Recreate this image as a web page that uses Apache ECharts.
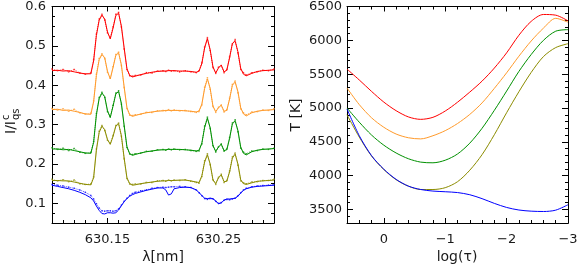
<!DOCTYPE html>
<html>
<head>
<meta charset="utf-8">
<script src="https://cdn.jsdelivr.net/npm/echarts@6/dist/echarts.min.js"></script>
<style>html,body{margin:0;padding:0;background:#fff;}#c{width:581px;height:267px;}</style>
</head>
<body>
<div id="c"></div>
<script>
// ---------- Left panel: wavelength grid (nm) ----------
const lam = [630.100,630.105,630.110,630.115,630.120,630.125,630.130,630.135,
630.1375,630.140,630.1425,630.145,630.1475,630.150,630.1525,630.155,630.1575,630.160,630.1625,630.165,630.1675,630.170,630.1725,630.175,
630.180,630.185,630.190,630.195,630.200,630.2025,630.205,630.2075,630.210,630.215,630.220,630.225,630.230,
630.2325,630.235,630.2375,630.240,630.2425,630.245,630.2475,630.250,630.2525,630.255,630.2575,630.260,630.2625,630.265,630.2675,630.270,630.2725,630.275,
630.280,630.285,630.290,630.295,630.300];

const redFit = [0.437,0.438,0.436,0.437,0.434,0.431,0.429,0.429,
0.462,0.527,0.565,0.578,0.568,0.535,0.518,0.545,0.577,0.583,0.550,0.495,0.442,0.425,0.421,0.423,
0.427,0.430,0.433,0.435,0.436,0.436,0.437,0.437,0.437,0.436,0.436,0.435,0.433,
0.436,0.455,0.495,0.518,0.490,0.447,0.431,0.444,0.451,0.434,0.438,0.470,0.506,0.512,0.485,0.443,0.428,0.424,
0.430,0.435,0.437,0.438,0.439];
const redObs = [0.441,0.437,0.440,0.434,0.440,0.431,0.428,0.431,
0.465,0.530,0.568,0.580,0.566,0.533,0.520,0.548,0.580,0.585,0.548,0.492,0.440,0.424,0.423,0.425,
0.426,0.432,0.431,0.436,0.437,0.435,0.438,0.436,0.437,0.434,0.437,0.434,0.432,
0.437,0.457,0.497,0.521,0.488,0.445,0.430,0.446,0.450,0.432,0.440,0.472,0.505,0.516,0.482,0.440,0.432,0.426,
0.432,0.434,0.438,0.437,0.441];

const orangeFit = [0.338,0.339,0.336,0.337,0.334,0.331,0.327,0.326,
0.358,0.425,0.465,0.478,0.470,0.435,0.416,0.445,0.476,0.482,0.452,0.396,0.343,0.325,0.321,0.323,
0.327,0.330,0.332,0.334,0.335,0.336,0.336,0.336,0.336,0.336,0.335,0.334,0.332,
0.335,0.352,0.392,0.416,0.392,0.347,0.333,0.343,0.349,0.334,0.336,0.365,0.400,0.408,0.384,0.343,0.327,0.322,
0.330,0.334,0.336,0.337,0.338];
const orangeObs = [0.341,0.337,0.340,0.334,0.339,0.330,0.327,0.329,
0.360,0.428,0.468,0.480,0.468,0.433,0.418,0.447,0.478,0.484,0.450,0.394,0.341,0.324,0.323,0.325,
0.326,0.331,0.331,0.335,0.336,0.335,0.338,0.335,0.337,0.335,0.336,0.333,0.331,
0.333,0.350,0.395,0.419,0.390,0.346,0.331,0.344,0.350,0.332,0.338,0.367,0.402,0.411,0.381,0.340,0.330,0.325,
0.332,0.333,0.337,0.336,0.340];

const greenFit = [0.238,0.238,0.236,0.237,0.234,0.231,0.228,0.227,
0.255,0.325,0.366,0.380,0.371,0.335,0.318,0.347,0.378,0.384,0.354,0.298,0.244,0.226,0.222,0.224,
0.228,0.231,0.233,0.235,0.236,0.236,0.237,0.237,0.237,0.237,0.236,0.235,0.233,
0.235,0.253,0.293,0.316,0.292,0.247,0.232,0.243,0.250,0.234,0.236,0.265,0.302,0.309,0.285,0.243,0.227,0.223,
0.231,0.235,0.237,0.238,0.239];
const greenObs = [0.241,0.237,0.240,0.234,0.239,0.230,0.227,0.229,
0.257,0.328,0.369,0.382,0.369,0.333,0.320,0.349,0.380,0.386,0.352,0.296,0.242,0.225,0.224,0.226,
0.227,0.232,0.232,0.236,0.237,0.235,0.238,0.236,0.238,0.236,0.237,0.234,0.232,
0.233,0.251,0.296,0.319,0.290,0.246,0.230,0.244,0.251,0.232,0.238,0.267,0.304,0.312,0.282,0.240,0.230,0.226,
0.233,0.234,0.238,0.237,0.240];

const oliveFit = [0.158,0.158,0.157,0.157,0.154,0.151,0.148,0.147,
0.165,0.235,0.280,0.296,0.287,0.262,0.250,0.270,0.296,0.302,0.272,0.215,0.165,0.150,0.146,0.147,
0.150,0.152,0.154,0.156,0.157,0.157,0.158,0.158,0.158,0.159,0.159,0.157,0.154,
0.153,0.170,0.205,0.223,0.200,0.160,0.150,0.165,0.172,0.155,0.156,0.180,0.215,0.225,0.200,0.160,0.150,0.148,
0.152,0.156,0.157,0.158,0.159];
const oliveObs = [0.161,0.157,0.160,0.155,0.159,0.150,0.148,0.149,
0.167,0.238,0.283,0.298,0.285,0.260,0.252,0.272,0.298,0.304,0.270,0.213,0.163,0.149,0.148,0.149,
0.149,0.153,0.153,0.157,0.158,0.156,0.159,0.157,0.159,0.158,0.160,0.156,0.153,
0.151,0.168,0.208,0.226,0.198,0.159,0.148,0.166,0.174,0.153,0.158,0.182,0.218,0.228,0.197,0.157,0.152,0.150,
0.154,0.155,0.158,0.158,0.161];

const blueFit = [0.146,0.143,0.140,0.137,0.133,0.128,0.122,0.114,
0.106,0.093,0.082,0.074,0.073,0.076,0.076,0.075,0.076,0.083,0.094,0.104,0.112,0.118,0.122,0.125,
0.129,0.133,0.136,0.139,0.139,0.134,0.121,0.124,0.137,0.140,0.141,0.140,0.134,
0.127,0.120,0.113,0.112,0.113,0.112,0.106,0.099,0.101,0.108,0.111,0.111,0.112,0.113,0.118,0.126,0.133,0.137,
0.141,0.143,0.144,0.145,0.146];
const blueObs = [0.148,0.146,0.144,0.141,0.138,0.134,0.128,0.120,
0.111,0.099,0.088,0.081,0.080,0.081,0.081,0.080,0.081,0.086,0.095,0.105,0.113,0.120,0.125,0.128,
0.132,0.134,0.138,0.140,0.141,0.140,0.141,0.142,0.142,0.143,0.142,0.140,0.134,
0.127,0.119,0.112,0.110,0.112,0.111,0.105,0.100,0.102,0.108,0.110,0.109,0.111,0.113,0.119,0.127,0.134,0.138,
0.142,0.144,0.145,0.146,0.147];

// ---------- Right panel: temperature stratifications ----------
const logTau = [0.6,0.4,0.2,0.0,-0.2,-0.4,-0.6,-0.8,-1.0,-1.2,-1.4,-1.6,-1.8,-2.0,-2.2,-2.4,-2.6,-2.8,-3.0];
const tRed    = [5575,5414,5245,5087,4960,4868,4832,4862,4955,5085,5235,5397,5590,5815,6075,6280,6382,6372,6288];
const tOrange = [5295,5050,4855,4715,4615,4560,4543,4590,4665,4770,4905,5075,5290,5520,5765,5990,6180,6325,6268];
const tGreen  = [5000,4790,4600,4450,4335,4250,4200,4190,4228,4320,4480,4700,4965,5250,5540,5790,6000,6135,6158];
const tOlive  = [4900,4570,4290,4090,3940,3845,3795,3795,3822,3910,4080,4310,4605,4930,5240,5525,5760,5893,5950];
const tBlue   = [4985,4590,4295,4095,3945,3845,3795,3772,3762,3750,3718,3660,3590,3530,3492,3475,3470,3490,3570];

const leftMajor = [0.1,0.2,0.3,0.4,0.5,0.6];
const rightMajor = [3500,4000,4500,5000,5500,6000,6500];

const C = {red:'#ff0000', orange:'#ff9a2a', green:'#009000', olive:'#8c8c00', blue:'#0000ff'};
const FONT = 'DejaVu Sans';
const TXT = '#1a1a1a';
const pts = (xs, ys) => xs.map((x, i) => [x, ys[i]]);

const axisLine = {show:true, onZero:false, lineStyle:{color:'#000', width:1}};
function xAx(grid, pos, labels, extra) {
  return Object.assign({
    type:'value', gridIndex:grid, position:pos,
    axisLine, splitLine:{show:false}, minorSplitLine:{show:false},
    axisTick:{show:true, inside:true, length:5, lineStyle:{color:'#000'}},
    minorTick:{show:true, splitNumber:5, length:3, lineStyle:{color:'#000'}},
    axisLabel:{show:labels, fontFamily:FONT, fontSize:13, color:TXT, margin:10}
  }, extra);
}
function yMinor(grid, pos, min, max, step) {
  return {type:'value', gridIndex:grid, position:pos, min, max, interval:step, offset:0,
    axisLine, splitLine:{show:false},
    axisTick:{show:true, inside:true, length:3, lineStyle:{color:'#000'}},
    axisLabel:{show:false}};
}
function yMajor(grid, pos, min, max, vals, labels, fmt, margin) {
  return {type:'value', gridIndex:grid, position:pos, min, max, offset:0,
    axisLine, splitLine:{show:false},
    axisTick:{show:true, inside:true, length:6, customValues:vals, lineStyle:{color:'#000'}},
    axisLabel:{show:labels, customValues:vals, formatter:fmt, fontFamily:FONT, fontSize:13, color:TXT, margin:margin}};
}

const lamFmt = v => { const k = Math.round((v - 630) * 100); return (k % 10 === 5) ? (630 + k/100).toFixed(2) : ''; };
const tauFmt = v => { const r = Math.round(v); if (Math.abs(v - r) > 1e-6 || v > 0) return ''; return r === 0 ? '0' : '\u2212' + Math.abs(r); };

function specSeries(name, obs, fit, color) {
  return [
    {name:name+' obs', type:'line', xAxisIndex:0, yAxisIndex:0, data:pts(lam, obs),
     showSymbol:true, symbol:'rect', symbolSize:1.5, itemStyle:{color:color, opacity:0.7},
     lineStyle:{color:color, width:1, type:'dotted', opacity:0.7}, z:2},
    {name:name+' fit', type:'line', xAxisIndex:0, yAxisIndex:0, data:pts(lam, fit),
     showSymbol:false, lineStyle:{color:color, width:1}, z:3}
  ];
}
function tSeries(name, vals, color) {
  return {name:name, type:'line', xAxisIndex:2, yAxisIndex:4, data:pts(logTau, vals),
    smooth:0.3, showSymbol:false, lineStyle:{color:color, width:1}};
}

const option = {
  animation:false,
  backgroundColor:'#fff',
  grid:[
    {left:52, top:4, width:222, height:219},
    {left:347, top:4, width:221, height:219}
  ],
  xAxis:[
    xAx(0,'bottom',true,{min:630.10, max:630.30, interval:0.05, axisLabel:{show:true, formatter:lamFmt, fontFamily:FONT, fontSize:13, color:TXT, margin:10}}),
    xAx(0,'top',false,{min:630.10, max:630.30, interval:0.05}),
    xAx(1,'bottom',true,{min:-3, max:0.6, interval:1, inverse:true, axisLabel:{show:true, formatter:tauFmt, fontFamily:FONT, fontSize:13, color:TXT, margin:10}}),
    xAx(1,'top',false,{min:-3, max:0.6, interval:1, inverse:true})
  ],
  yAxis:[
    yMinor(0,'left',0.05,0.6,0.025),
    yMajor(0,'left',0.05,0.6,leftMajor,true,v=>v.toFixed(1),6),
    yMinor(0,'right',0.05,0.6,0.025),
    yMajor(0,'right',0.05,0.6,leftMajor,false,null,6),
    yMinor(1,'left',3300,6500,100),
    yMajor(1,'left',3300,6500,rightMajor,true,v=>String(v),5),
    yMinor(1,'right',3300,6500,100),
    yMajor(1,'right',3300,6500,rightMajor,false,null,5)
  ],
  series:[].concat(
    specSeries('red', redObs, redFit, C.red),
    specSeries('orange', orangeObs, orangeFit, C.orange),
    specSeries('green', greenObs, greenFit, C.green),
    specSeries('olive', oliveObs, oliveFit, C.olive),
    specSeries('blue', blueObs, blueFit, C.blue),
    [tSeries('red', tRed, C.red), tSeries('orange', tOrange, C.orange), tSeries('green', tGreen, C.green),
     tSeries('olive', tOlive, C.olive), tSeries('blue', tBlue, C.blue)]
  ),
  graphic:[
    {type:'text', x:163, y:257, style:{text:'\u03bb[nm]', font:'14px "DejaVu Sans"', fill:TXT, align:'center', verticalAlign:'middle'}},
    {type:'text', x:457, y:257, style:{text:'log(\u03c4)', font:'14px "DejaVu Sans"', fill:TXT, align:'center', verticalAlign:'middle'}},
    {type:'text', x:296, y:115, rotation:Math.PI/2, style:{text:'T [K]', font:'14px "DejaVu Sans"', fill:TXT, align:'center', verticalAlign:'middle'}},
    {type:'group', x:11, y:117, rotation:Math.PI/2, children:[
      {type:'text', x:-17, y:0, style:{text:'I/I', font:'14px "DejaVu Sans"', fill:TXT, align:'left', verticalAlign:'middle'}},
      {type:'text', x:-3, y:-5, style:{text:'c', font:'10px "DejaVu Sans"', fill:TXT, align:'left', verticalAlign:'middle'}},
      {type:'text', x:-3, y:5, style:{text:'qs', font:'10px "DejaVu Sans"', fill:TXT, align:'left', verticalAlign:'middle'}}
    ]}
  ]
};

echarts.init(document.getElementById('c'), null, {renderer:'canvas'}).setOption(option);
</script>
</body>
</html>
